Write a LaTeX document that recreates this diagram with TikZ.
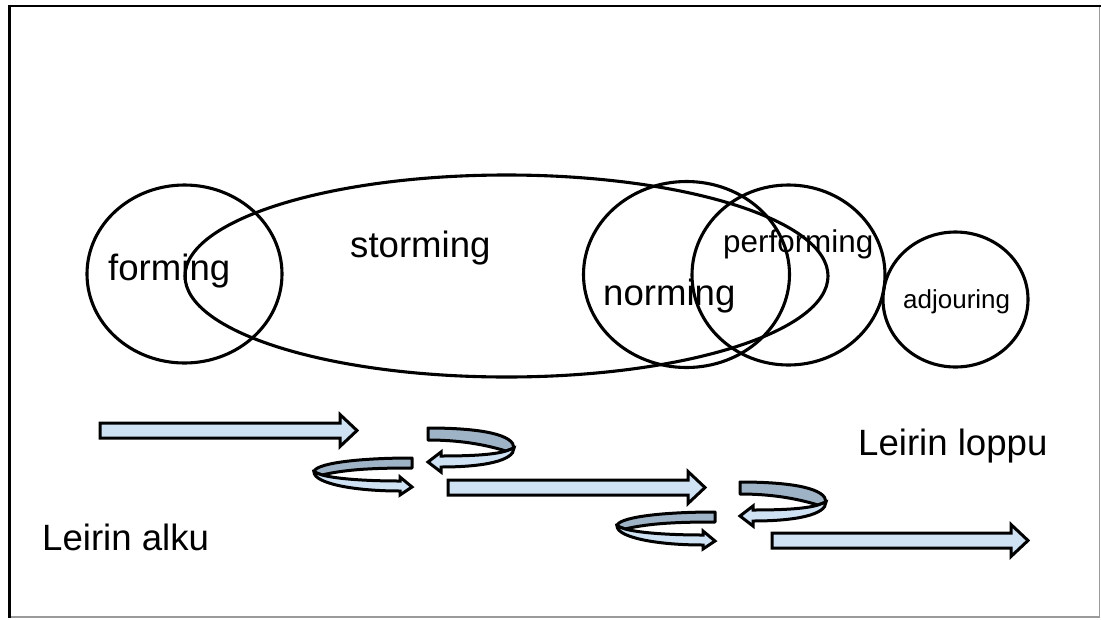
\documentclass[tikz,border=0pt]{standalone}
\usepackage{fontspec}
\setmainfont{Liberation Sans}
\usetikzlibrary{shapes.geometric}
\definecolor{arrowfill}{HTML}{CFE2F3}
\definecolor{arrowback}{HTML}{9FB3C6}
\definecolor{framegray}{HTML}{9A9A9A}

% block arrow: x start, x tip, y middle
\newcommand{\blockarrow}[3]{%
  \draw[barrow] (#1,#3-7.5) -- (#2-17,#3-7.5) -- (#2-17,#3-16) -- (#2,#3)
    -- (#2-17,#3+16) -- (#2-17,#3+7.5) -- (#1,#3+7.5) -- cycle;}
% curved arrow turning back to the left, origin at its flat end
\newcommand{\turnleft}[2]{%
  \begin{scope}[shift={(#1,#2)}]
    \draw[bback] (0,0) .. controls (55,0) and (86,7) .. (86,20) -- (78,23)
      .. controls (55,16) and (30,12) .. (0,12) -- cycle;
    \draw[barrow] (86,20) .. controls (86,33) and (55,39) .. (13,39) -- (13,44)
      -- (0,34) -- (13,24) -- (13,28) .. controls (40,28) and (65,27) .. (78,23) -- cycle;
  \end{scope}}
% curved arrow turning back to the right, origin at its flat end
\newcommand{\turnright}[2]{%
  \begin{scope}[shift={(#1,#2)}]
    \draw[bback] (0,0) .. controls (-58,0) and (-98,6) .. (-98,14) -- (-90,17)
      .. controls (-65,11) and (-35,10) .. (0,10) -- cycle;
    \draw[barrow] (-98,14) .. controls (-98,25) and (-60,33) .. (-12,33) -- (-12,37)
      -- (0,29) -- (-12,19) -- (-12,23) .. controls (-45,23) and (-75,21) .. (-90,17) -- cycle;
  \end{scope}}

\begin{document}
\begin{tikzpicture}[x=1pt,y=-1pt,
  phasering/.style={draw,ellipse,line width=3.1pt,inner sep=0pt},
  phasetext/.style={anchor=base west,inner sep=0pt,font=\fontsize{36.6}{40}\selectfont},
  barrow/.style={draw,line width=3pt,fill=arrowfill,line join=miter},
  bback/.style={draw,line width=3pt,fill=arrowback,line join=round}]
\useasboundingbox (0,0) rectangle (1101,619);

% frame
\draw[framegray,line width=1.5pt] (9.5,617) -- (1099.5,617) -- (1099.5,6.2);
\draw[line width=2.5pt] (9.5,618) -- (9.5,6.2) -- (1101,6.2);

% phases
\node[phasering,minimum width=195,minimum height=178] (forming) at (184.5,274) {};
\node[phasering,minimum width=643,minimum height=202] (storming) at (506.5,276) {};
\node[phasering,minimum width=206,minimum height=186] (norming) at (686.5,274.5) {};
\node[phasering,minimum width=193,minimum height=180] (performing) at (788.5,275) {};
\node[phasering,minimum width=145,minimum height=135] (adjouring) at (955.5,299.5) {};

\node[phasetext] (tforming) at (108,280) {forming};
\node[phasetext] (tstorming) at (350,257) {storming};
\node[phasetext] (tnorming) at (603,305) {norming};
\node[phasetext,font=\fontsize{31.4}{34}\selectfont] (tperforming) at (723,252) {performing};
\node[phasetext,font=\fontsize{26}{29}\selectfont] (tadjouring) at (903,308) {adjouring};

\node[phasetext] (alku) at (42,550) {Leirin alku};
\node[phasetext] (loppu) at (858,455) {Leirin loppu};

% arrows
\blockarrow{100}{357}{430.5}
\blockarrow{448}{705}{487.5}
\blockarrow{772}{1028}{540.5}
\turnleft{428}{428}
\turnright{412}{458}
\turnleft{740}{482}
\turnright{715}{512}
\end{tikzpicture}
\end{document}
